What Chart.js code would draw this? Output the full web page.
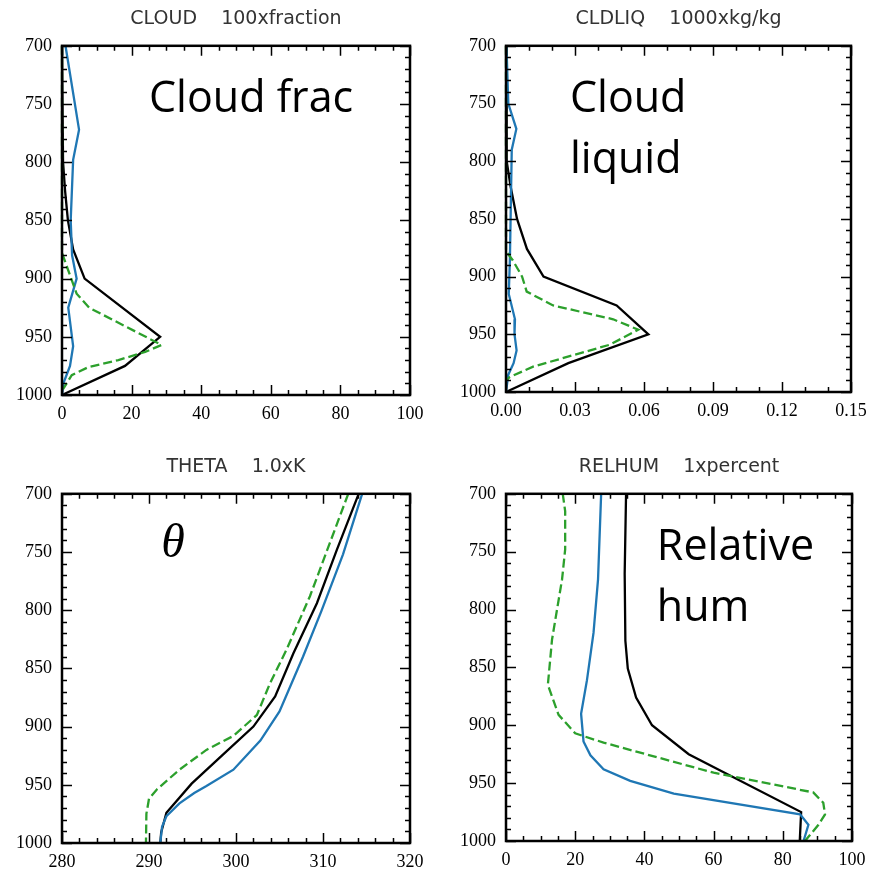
<!DOCTYPE html>
<html>
<head>
<meta charset="utf-8">
<script src="https://cdn.jsdelivr.net/npm/chart.js@4/dist/chart.umd.min.js"></script>
<style>
  body { margin: 0; background: #fff; }
  #wrap { position: relative; width: 877px; height: 870px; }
  #wrap canvas { position: absolute; }
</style>
</head>
<body>
<div id="wrap">
  <canvas id="cloud" width="438" height="435" style="left:0;top:0"></canvas>
  <canvas id="cldliq" width="439" height="435" style="left:438px;top:0"></canvas>
  <canvas id="theta" width="438" height="422" style="left:0;top:448px"></canvas>
  <canvas id="relhum" width="439" height="422" style="left:438px;top:448px"></canvas>
</div>
<script>
// colours of the three runs
const BLUE = '#1f77b4';
const BLACK = '#000000';
const GREEN = '#2ca02c';

// CLOUD (100 x fraction)
const cloudBlueP = [700, 772, 798, 850, 880, 900, 925, 958, 975, 990, 1000];
const cloudBlue = [1, 4.9, 3.2, 2.5, 2.9, 4.2, 1.8, 3.2, 2.3, 0.4, 0];
const cloudBlackP = [700, 800, 825, 850, 875, 900, 950, 975, 1000];
const cloudBlack = [0, 0.3, 0.9, 1.7, 3.2, 6.5, 28.2, 18.1, 0];
const cloudGreenP = [700, 878, 913, 925, 957, 963, 970, 976, 983, 995];
const cloudGreen = [0, 0, 4.2, 7.8, 28.6, 23.9, 16.2, 7.6, 2.8, 0.3];

// CLDLIQ (1000 x kg/kg)
const liqBlueP = [700, 750, 772, 790, 850, 885, 915, 937, 950, 964, 975, 985, 1000];
const liqBlue = [0.0002, 0.001, 0.0045, 0.0025, 0.002, 0.0017, 0.0012, 0.0039, 0.0037, 0.0046, 0.0033, 0.001, 0];
const liqBlackP = [700, 800, 822, 850, 876, 900, 925, 950, 975, 1000];
const liqBlack = [0, 0.0003, 0.002, 0.0048, 0.0091, 0.0163, 0.0481, 0.0619, 0.0271, 0];
const liqGreenP = [700, 878, 886, 900, 913, 925, 937, 946, 959, 978, 987, 990];
const liqGreen = [0, 0, 0.003, 0.007, 0.009, 0.0205, 0.0466, 0.0575, 0.0452, 0.0118, 0.0017, 0];

// THETA (K)
const thetaBlueP = [700, 752, 801, 840, 887, 912, 937, 951, 957, 966, 977, 986, 1000];
const thetaBlue = [314.5, 312.3, 309.8, 307.7, 305.0, 302.8, 299.7, 296.6, 295.2, 293.5, 292.0, 291.5, 291.3];
const thetaBlackP = [700, 748, 794, 837, 874, 900, 924, 949, 974, 991, 1000];
const thetaBlack = [314.1, 311.6, 309.3, 306.6, 304.5, 302.0, 298.5, 294.9, 292.0, 291.4, 291.3];
const thetaGreenP = [700, 742, 788, 834, 863, 890, 908, 920, 937, 954, 962, 975, 1000];
const thetaGreen = [312.9, 310.8, 308.5, 305.8, 303.9, 302.4, 299.7, 296.6, 293.5, 290.9, 290.0, 289.7, 289.65];

// RELHUM (percent)
const rhBlueP = [700, 774, 820, 861, 890, 914, 926, 938, 948, 959, 977, 986, 1000];
const rhBlue = [27.5, 26.6, 25.3, 23.4, 21.7, 22.4, 24.4, 28.2, 35.9, 48.5, 85.0, 87.4, 86.0];
const rhBlackP = [700, 769, 827, 851, 876, 900, 925, 975, 1000];
const rhBlack = [34.7, 34.3, 34.5, 35.2, 37.6, 42.2, 52.8, 85.3, 84.9];
const rhGreenP = [700, 715, 748, 774, 826, 865, 891, 907, 915, 941, 958, 967, 977, 986, 1000];
const rhGreen = [16.4, 17.1, 17.1, 16.2, 13.3, 12.1, 15.2, 20.0, 28.2, 60.0, 88.8, 91.7, 92.2, 90.3, 86.4];

// pressure axis (hPa, reversed)
const pMin = 700;
const pMax = 1000;
const pStep = 50;

function points(p, v) {
    return p.map((pp, i) => ({ x: v[i], y: pp }));
}

function series(p, v, color, dashed) {
    return {
        data: points(p, v),
        borderColor: color,
        borderWidth: 2.3,
        borderDash: dashed ? [9, 4] : [],
        pointRadius: 0,
        showLine: true,
        tension: 0,
        clip: false
    };
}

// box frame, inward minor/major ticks on all four sides, big label text
const framePlugin = {
    id: 'frame',
    afterDatasetsDraw(chart, args, o) {
        const ctx = chart.ctx;
        const a = chart.chartArea;
        const xs = chart.scales.x;
        const ys = chart.scales.y;
        ctx.save();
        ctx.strokeStyle = '#000';
        ctx.lineWidth = 1.5;
        ctx.beginPath();
        const nx = Math.round((xs.max - xs.min) / o.xMinor);
        for (let i = 0; i <= nx; i++) {
            const px = Math.round(xs.getPixelForValue(xs.min + i * o.xMinor)) + 0.5;
            const len = i % o.xEvery === 0 ? 10 : 5;
            ctx.moveTo(px, a.bottom); ctx.lineTo(px, a.bottom - len);
            ctx.moveTo(px, a.top); ctx.lineTo(px, a.top + len);
        }
        const ny = Math.round((pMax - pMin) / 10);
        for (let i = 0; i <= ny; i++) {
            const py = Math.round(ys.getPixelForValue(pMin + i * 10)) + 0.5;
            const len = i % 5 === 0 ? 10 : 5;
            ctx.moveTo(a.left, py); ctx.lineTo(a.left + len, py);
            ctx.moveTo(a.right, py); ctx.lineTo(a.right - len, py);
        }
        ctx.stroke();
        ctx.lineWidth = 2.5;
        ctx.strokeRect(a.left, a.top, a.right - a.left, a.bottom - a.top);

        ctx.fillStyle = '#000';
        ctx.textBaseline = 'alphabetic';
        ctx.textAlign = 'left';
        ctx.font = o.font;
        o.labels.forEach(l => {
            ctx.fillText(l.text, xs.getPixelForValue(l.x), ys.getPixelForValue(l.y));
        });
        ctx.restore();
    }
};

function makeChart(id, cfg) {
    const ctx = document.getElementById(id).getContext('2d');
    return new Chart(ctx, {
        type: 'scatter',
        data: { datasets: cfg.datasets },
        options: {
            responsive: false,
            animation: false,
            events: [],
            layout: { padding: { left: 0, right: cfg.padRight, top: 0, bottom: 0 } },
            plugins: {
                legend: { display: false },
                tooltip: { enabled: false },
                title: {
                    display: true,
                    text: cfg.title,
                    fullSize: false,
                    color: '#333',
                    font: { family: 'DejaVu Sans', size: 19, weight: 'normal' },
                    padding: { top: 8, bottom: 15 }
                },
                frame: {
                    xMinor: cfg.xMinor,
                    xEvery: cfg.xEvery,
                    font: cfg.labelFont,
                    labels: cfg.labels
                }
            },
            scales: {
                x: {
                    type: 'linear',
                    position: 'bottom',
                    min: cfg.xMin,
                    max: cfg.xMax,
                    grid: { display: false, drawTicks: false },
                    border: { display: false },
                    ticks: {
                        stepSize: cfg.xStep,
                        padding: 8,
                        color: '#000',
                        maxRotation: 0,
                        font: { family: 'Liberation Serif', size: 18 },
                        callback: v => cfg.xFormat ? v.toFixed(cfg.xFormat) : String(Math.round(v))
                    },
                    afterFit: s => { s.height = cfg.xHeight; }
                },
                y: {
                    type: 'linear',
                    reverse: true,
                    min: pMin,
                    max: pMax,
                    grid: { display: false, drawTicks: false },
                    border: { display: false },
                    ticks: {
                        stepSize: pStep,
                        padding: 10,
                        color: '#000',
                        font: { family: 'Liberation Serif', size: 18 },
                        callback: v => String(Math.round(v))
                    },
                    afterFit: s => { s.width = cfg.yWidth; }
                }
            }
        },
        plugins: [framePlugin]
    });
}

makeChart('cloud', {
    title: 'CLOUD    100xfraction',
    datasets: [
        series(cloudGreenP, cloudGreen, GREEN, true),
        series(cloudBlueP, cloudBlue, BLUE, false),
        series(cloudBlackP, cloudBlack, BLACK, false)
    ],
    xMin: 0, xMax: 100, xStep: 20, xMinor: 5, xEvery: 4,
    yWidth: 62, padRight: 28, xHeight: 40,
    labelFont: '43px "Open Sans"',
    labels: [{ text: 'Cloud frac', x: 25, y: 757 }]
});

makeChart('cldliq', {
    title: 'CLDLIQ    1000xkg/kg',
    datasets: [
        series(liqGreenP, liqGreen, GREEN, true),
        series(liqBlueP, liqBlue, BLUE, false),
        series(liqBlackP, liqBlack, BLACK, false)
    ],
    xMin: 0, xMax: 0.15, xStep: 0.03, xMinor: 0.01, xEvery: 3, xFormat: 2,
    yWidth: 68, padRight: 26, xHeight: 43,
    labelFont: '43px "Open Sans"',
    labels: [{ text: 'Cloud', x: 0.0278, y: 757 }, { text: 'liquid', x: 0.0278, y: 810 }]
});

makeChart('theta', {
    title: 'THETA    1.0xK',
    datasets: [
        series(thetaGreenP, thetaGreen, GREEN, true),
        series(thetaBlueP, thetaBlue, BLUE, false),
        series(thetaBlackP, thetaBlack, BLACK, false)
    ],
    xMin: 280, xMax: 320, xStep: 10, xMinor: 2, xEvery: 5,
    yWidth: 62, padRight: 28, xHeight: 27,
    labelFont: 'italic 48px "Liberation Serif"',
    labels: [{ text: 'θ', x: 291.4, y: 754 }]
});

makeChart('relhum', {
    title: 'RELHUM    1xpercent',
    datasets: [
        series(rhGreenP, rhGreen, GREEN, true),
        series(rhBlueP, rhBlue, BLUE, false),
        series(rhBlackP, rhBlack, BLACK, false)
    ],
    xMin: 0, xMax: 100, xStep: 20, xMinor: 5, xEvery: 4,
    yWidth: 68, padRight: 25, xHeight: 29,
    labelFont: '43px "Open Sans"',
    labels: [{ text: 'Relative', x: 43.6, y: 757 }, { text: 'hum', x: 43.6, y: 810 }]
});
</script>
</body>
</html>
